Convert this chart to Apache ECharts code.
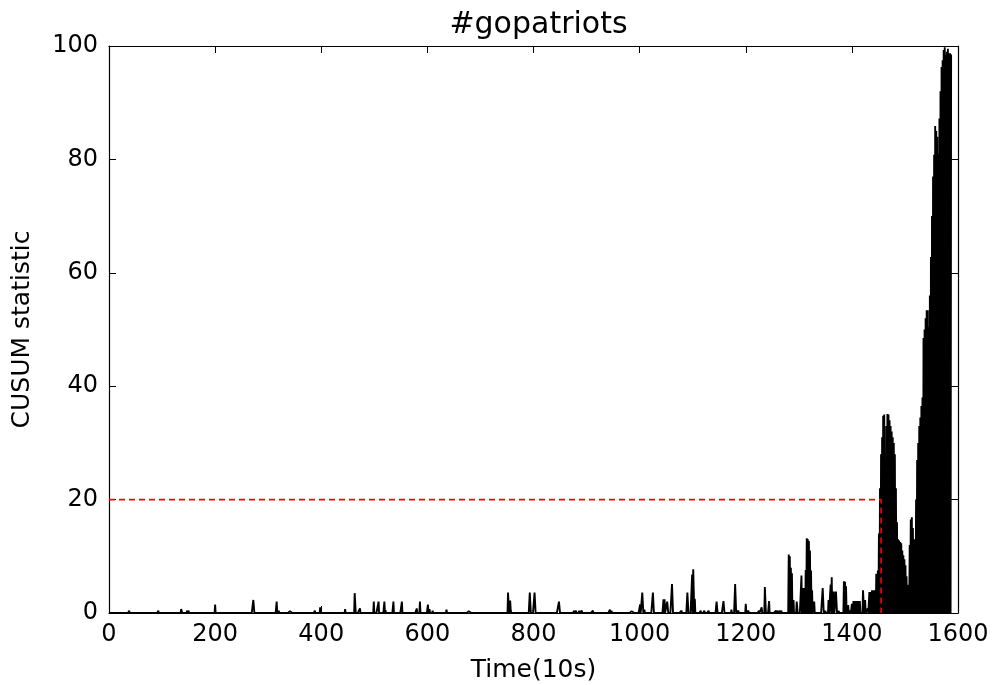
<!DOCTYPE html>
<html>
<head>
<meta charset="utf-8">
<script src="https://cdn.jsdelivr.net/npm/echarts@6/dist/echarts.min.js"></script>
<style>html,body{margin:0;padding:0;background:#fff}#c{width:993px;height:685px}</style>
</head>
<body>
<div id="c"></div>
<script>
// ---- data ----
const titleText = '#gopatriots';
const xName = 'Time(10s)';
const yName = 'CUSUM statistic';
const xTicks = [0, 200, 400, 600, 800, 1000, 1200, 1400, 1600];
const yTicks = [0, 20, 40, 60, 80, 100];
const threshold = 20;
const changePoint = 1455;
const seriesLength = 1588;
// sparse early activity: [time step, CUSUM value]
const sparseSpikes = [
  [38,0.4],[93,0.4],[128,0.3],[136,0.7],[137,0.5],[147,0.4],[150,0.4],[200,1.5],[272,2.3],[273,2.3],
  [316,2.0],[320,0.4],[341,0.3],[388,0.4],[398,1.0],[413,0.3],[445,0.7],[463,3.5],[464,3.3],[473,0.8],
  [499,2.0],[508,2.0],[519,2.0],[521,0.5],[536,2.0],[552,2.0],[580,0.8],[586,2.0],[601,1.5],[604,0.7],[610,0.4],
  [636,0.6],[648,0.3],[671,0.3],[678,0.3],[684,0.3],[718,0.3],[740,0.3],[752,3.6],[753,3.5],[756,2.2],[757,0.6],
  [765,0.3],[772,0.3],[780,0.3],[790,0.3],[793,3.6],[794,3.5],[802,3.6],[803,3.5],[815,0.3],[848,2.0],[849,2.0],[872,0.3],
  [876,0.4],[880,0.4],[886,0.4],[891,0.4],[912,0.4],[944,0.6],[947,0.4],[958,0.3],[970,0.3],[978,0.3],[985,0.3],
  [1001,1.5],[1005,3.6],[1006,3.5],[1009,0.6],[1025,3.6],[1026,3.5],[1045,2.4],[1047,2.4],[1052,2.0],[1053,1.0],[1061,5.1],[1062,5.0],
  [1079,0.4],[1090,3.6],[1091,3.5],[1099,6.8],[1101,7.7],[1102,7.5],[1104,2.5],[1115,0.4],[1122,0.4],[1130,0.4],[1145,2.0],[1146,2.0],[1158,2.1],[1159,2.0],
  [1163,0.3],[1173,0.6],[1180,5.1],[1181,5.0],[1186,0.4],[1200,1.6],[1205,0.4],[1225,0.4],[1230,1.0],[1236,4.6],[1237,4.5],[1244,2.1],[1257,0.4],[1260,0.4],[1264,0.4],[1267,0.4],
  [1281,10.3],[1283,10.0],[1285,8.0],[1287,7.0],[1290,2.3],[1296,2.0],[1297,2.0],[1305,6.6],[1308,4.4],[1311,4.4],[1313,7.6],[1315,13.2],[1317,13.0],[1319,12.7],[1321,11.0],[1323,7.5],[1325,4.0],[1329,2.0],
  [1345,4.4],[1346,4.3],[1350,0.4],[1356,2.3],[1360,5.0],[1362,6.3],[1364,3.8],[1366,3.8],[1370,3.8],[1371,3.5],[1375,0.4],
  [1385,5.6],[1387,5.5],[1389,4.7],[1391,1.4],[1393,1.4],[1397,0.4],[1400,1.6],[1403,2.1],[1406,2.1],[1409,2.1],[1412,2.1],[1415,2.1],
  [1421,4.0],[1422,4.0],[1425,2.3],[1430,0.8],[1433,3.7],[1435,3.7],[1438,4.0],[1440,4.0],[1442,4.0],[1444,4.0]
];
// dense burst, one value per time step starting at burstStart
const burstStart = 1446;
const burstValues = [
  6.9, 7.2, 0, 7.5, 0, 14, 0, 22, 0, 28, 0, 31, 0, 34.8, 0, 35, 0, 24, 0, 33,
  0, 35.1, 0, 35, 0, 34, 0, 33, 0, 32, 0, 31, 0, 30, 0, 28, 0, 22, 0, 16,
  0, 13, 0, 12.8, 0, 12.5, 0, 12.3, 0, 11, 0, 10.2, 0, 9.5, 0, 8.4, 0, 6.5, 0, 5,
  0, 2.3, 0, 12, 0, 16.5, 0, 16.9, 0, 15, 0, 13, 0, 12, 0, 20, 0, 27, 0, 30,
  0, 33, 0, 34.5, 0, 36.5, 0, 38, 0, 48.5, 0, 50, 0, 52, 0, 53.4, 0, 53.4, 0, 50.5,
  0, 56, 0, 62.8, 0, 70, 0, 77, 0, 80.8, 0, 85.9, 0, 85, 0, 84, 0, 81, 0, 87.2,
  0, 92, 0, 96.3, 0, 97.5, 0, 99.3, 0, 99.8, 0, 98.4, 0, 99, 0, 99.5, 0, 98.7, 0, 98.7,
  0, 98.5
];

// ---- build series ----
const cusum = new Array(seriesLength).fill(0);
sparseSpikes.forEach(([t, v]) => { cusum[t] = v; });
burstValues.forEach((v, i) => { if (burstStart + i < seriesLength) cusum[burstStart + i] = v; });
const lineData = cusum.map((v, i) => [i, v]);
const thresholdData = [[0, threshold], [changePoint, threshold], [changePoint, 0]];

const FONT = 'DejaVu Sans';
const axisCommon = {
  axisLine: { show: true, onZero: false, lineStyle: { color: '#000', width: 1.2 } },
  axisTick: { show: true, inside: true, length: 7, lineStyle: { color: '#000', width: 1 } },
  splitLine: { show: false }
};
const chart = echarts.init(document.getElementById('c'), null, { renderer: 'canvas' });
chart.setOption({
  animation: false,
  backgroundColor: '#fff',
  title: {
    text: titleText, left: 533.5, textAlign: 'center', top: 5,
    textStyle: { fontFamily: FONT, fontWeight: 'normal', fontSize: 30, color: '#000' }
  },
  grid: { left: 109, right: 35, top: 46, bottom: 72, containLabel: false, outerBoundsMode: 'none' },
  xAxis: [
    Object.assign({
      type: 'value', min: xTicks[0], max: xTicks[xTicks.length - 1], interval: 200, position: 'bottom',
      axisLabel: { color: '#000', fontFamily: FONT, fontSize: 24, margin: 10, formatter: v => String(v) },
      name: xName, nameLocation: 'middle', nameGap: 45,
      nameTextStyle: { color: '#000', fontFamily: FONT, fontSize: 25 }
    }, axisCommon),
    Object.assign({
      type: 'value', min: xTicks[0], max: xTicks[xTicks.length - 1], interval: 200, position: 'top',
      axisLabel: { show: false }
    }, axisCommon)
  ],
  yAxis: [
    Object.assign({
      type: 'value', min: yTicks[0], max: yTicks[yTicks.length - 1], interval: 20, position: 'left',
      axisLabel: { color: '#000', fontFamily: FONT, fontSize: 24, margin: 11, formatter: v => String(v) },
      name: yName, nameLocation: 'middle', nameGap: 74,
      nameTextStyle: { color: '#000', fontFamily: FONT, fontSize: 25 }
    }, axisCommon),
    Object.assign({
      type: 'value', min: yTicks[0], max: yTicks[yTicks.length - 1], interval: 20, position: 'right',
      axisLabel: { show: false }
    }, axisCommon)
  ],
  series: [
    {
      type: 'line', data: lineData, xAxisIndex: 0, yAxisIndex: 0,
      showSymbol: false, symbol: 'none', sampling: null, silent: true,
      lineStyle: { color: '#000', width: 1.9, join: 'bevel' }, z: 2
    },
    {
      type: 'line', data: thresholdData, xAxisIndex: 0, yAxisIndex: 0,
      showSymbol: false, symbol: 'none', silent: true,
      lineStyle: { color: '#ff0000', width: 1.6, type: [6, 4] }, z: 3
    }
  ]
});
</script>
</body>
</html>
